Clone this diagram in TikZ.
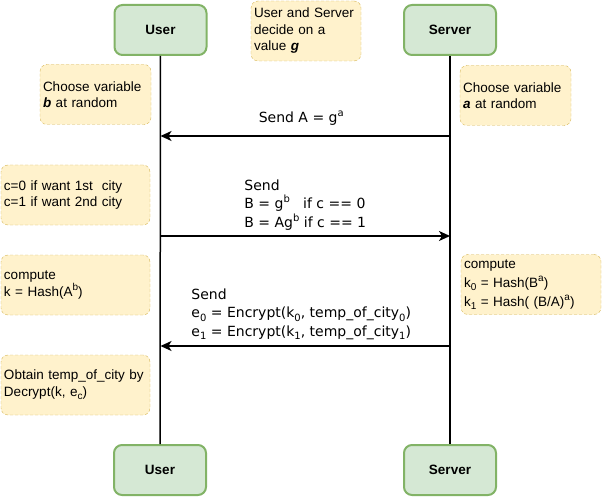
\documentclass[tikz,border=0pt]{standalone}
\usepackage{fontspec}
\setmainfont{Liberation Sans}
\newfontfamily\msgfont{DejaVu Sans}
\usetikzlibrary{arrows.meta, positioning}
\definecolor{ActorFill}{HTML}{D5E8D4}
\definecolor{ActorLine}{HTML}{82B366}
\definecolor{NoteFill}{HTML}{FFF2CC}
\definecolor{NoteLine}{HTML}{D6B656}
\newcommand{\upidx}[1]{\raisebox{0.42em}{\fontsize{10}{10}\selectfont #1}}
\newcommand{\lowidx}[1]{\raisebox{-0.25em}{\fontsize{10}{10}\selectfont #1}}

\begin{document}
\begin{tikzpicture}[x=1pt, y=-1pt,
  actor/.style={draw=ActorLine, fill=ActorFill, line width=2pt,
                rounded corners=8pt, minimum width=92pt, minimum height=50pt,
                font=\fontsize{13.5}{16}\selectfont\bfseries},
  note/.style={draw=NoteLine, fill=NoteFill, dash pattern=on 3pt off 2pt,
               rounded corners=7pt, minimum height=60pt, inner xsep=3pt,
               inner ysep=0pt, align=left,
               font=\fontsize{13.5}{16.5}\selectfont},
  life/.style={line width=1.5pt},
  msg/.style={-{Stealth[length=11pt, width=10pt, inset=3pt]}, line width=1.5pt},
  msglabel/.style={align=left, anchor=south, yshift=2pt,
                   font=\msgfont\fontsize{14}{18.5}\selectfont},
]
\useasboundingbox (0,0) rectangle (602,497);

\node[actor] (usertop)   at (160.5,30) {User};
\node[actor] (servertop) at (450,30)   {Server};
\node[actor] (userbot)   at (160,470)  {User};
\node[actor] (serverbot) at (450,470)  {Server};

\draw[life] (usertop) -- (userbot);
\draw[life] (servertop) -- (serverbot);

\node[note, text width=104pt] (gnote) at (306,31)
  {User and Server decide on a value \textbf{\textit{g}}};
\node[note, text width=105pt] (bnote) at (95.5,94.5)
  {Choose variable\\\textbf{\textit{b}} at random};
\node[note, text width=105pt] (anote) at (515.5,95.5)
  {Choose variable\\\textbf{\textit{a}} at random};
\node[note, text width=143pt] (cnote) at (75.5,195)
  {c=0 if want 1st~ city\\c=1 if want 2nd city};
\node[note, text width=143pt] (kuser) at (75.5,285)
  {compute\\k = Hash(A\upidx{b})};
\node[note, text width=134pt, font=\fontsize{13.5}{19}\selectfont]
  (kserver) at (531,284.5)
  {compute\\k\lowidx{0} = Hash(B\upidx{a})\\k\lowidx{1} = Hash( (B/A)\upidx{a})};
\node[note, text width=143pt] (obtain) at (75.5,385)
  {Obtain temp\_of\_city by\\Decrypt(k, e\lowidx{c})};

\coordinate (m1) at (0,136);
\coordinate (m2) at (0,236);
\coordinate (m3) at (0,346);

\draw[msg] (servertop |- m1) -- (usertop |- m1)
  node[msglabel, midway, xshift=-4pt, yshift=5pt] (lbl1) {Send A = g\upidx{a}};
\draw[msg] (usertop |- m2) -- (servertop |- m2)
  node[msglabel, midway] (lbl2)
  {Send\\B = g\upidx{b}\ \ \ if c == 0\\B = Ag\upidx{b} if c == 1};
\draw[msg] (servertop |- m3) -- (usertop |- m3)
  node[msglabel, midway, xshift=-4pt] (lbl3)
  {Send\\e\lowidx{0} = Encrypt(k\lowidx{0}, temp\_of\_city\lowidx{0})\\e\lowidx{1} = Encrypt(k\lowidx{1}, temp\_of\_city\lowidx{1})};
\end{tikzpicture}
\end{document}
